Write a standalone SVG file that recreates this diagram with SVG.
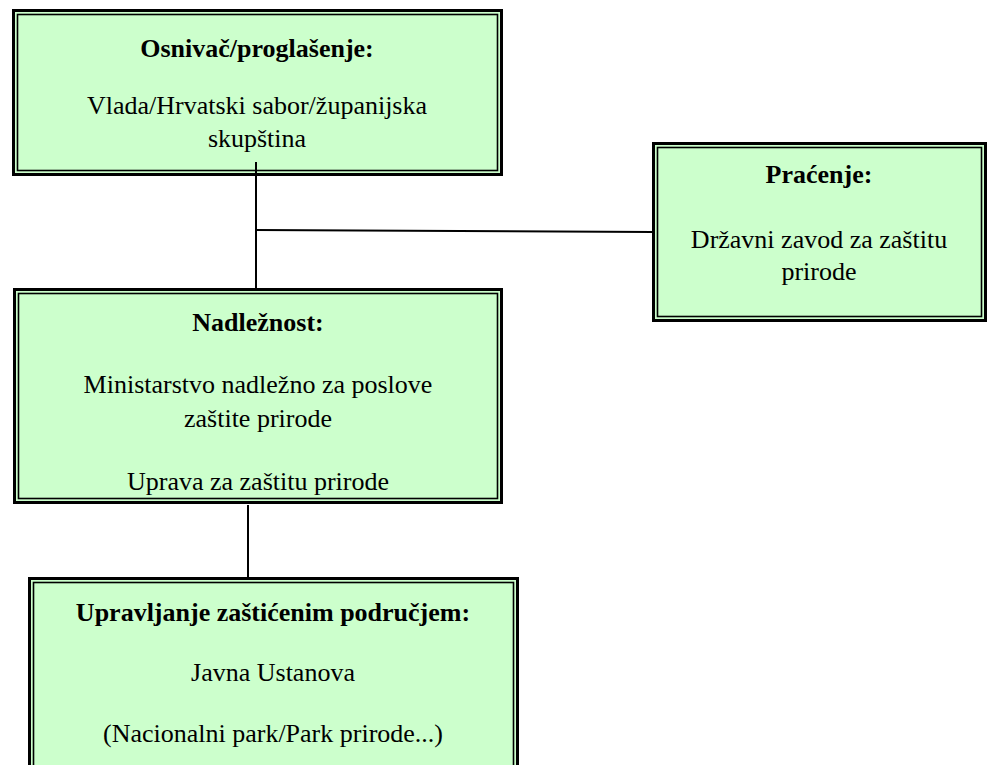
<svg xmlns="http://www.w3.org/2000/svg" width="993" height="765" viewBox="0 0 993 765">
<style>
.outer{fill:#ccffcc;stroke:#000;stroke-width:3}
.inner{fill:none;stroke:#000;stroke-width:1.6}
.t{font-family:"Liberation Serif","Times New Roman",serif;font-size:26px;fill:#000;text-anchor:middle}
.b{font-weight:bold}
.c{stroke:#000;stroke-width:2;fill:none}
</style>
<rect width="993" height="765" fill="#fff"/>
<g id="osnivac">
<rect class="outer" x="13.5" y="10.5" width="488" height="164"/>
<rect class="inner" x="17.5" y="14.5" width="480" height="156"/>
<text class="t b" x="257" y="57">Osnivač/proglašenje:</text>
<text class="t" x="257" y="114">Vlada/Hrvatski sabor/županijska</text>
<text class="t" x="257" y="147">skupština</text>
</g>
<g id="pracenje">
<rect class="outer" x="653.5" y="143.5" width="332" height="177"/>
<rect class="inner" x="657.5" y="147.5" width="324" height="169"/>
<text class="t b" x="819" y="183">Praćenje:</text>
<text class="t" x="819" y="248">Državni zavod za zaštitu</text>
<text class="t" x="819" y="280">prirode</text>
</g>
<g id="nadleznost">
<rect class="outer" x="14.5" y="289.5" width="487" height="213"/>
<rect class="inner" x="18.5" y="293.5" width="479" height="205"/>
<text class="t b" x="258" y="331">Nadležnost:</text>
<text class="t" x="258" y="393">Ministarstvo nadležno za poslove</text>
<text class="t" x="258" y="427">zaštite prirode</text>
<text class="t" x="258" y="490">Uprava za zaštitu prirode</text>
</g>
<g id="upravljanje">
<rect class="outer" x="29.5" y="578.5" width="488" height="200"/>
<rect class="inner" x="33.5" y="582.5" width="480" height="192"/>
<text class="t b" x="273" y="621">Upravljanje zaštićenim područjem:</text>
<text class="t" x="273" y="681">Javna Ustanova</text>
<text class="t" x="273" y="742">(Nacionalni park/Park prirode...)</text>
</g>
<g id="connectors">
<line class="c" x1="256" y1="162" x2="256" y2="291"/>
<line class="c" x1="256" y1="230" x2="653" y2="232"/>
<line class="c" x1="248" y1="505" x2="248" y2="578"/>
</g>
</svg>
